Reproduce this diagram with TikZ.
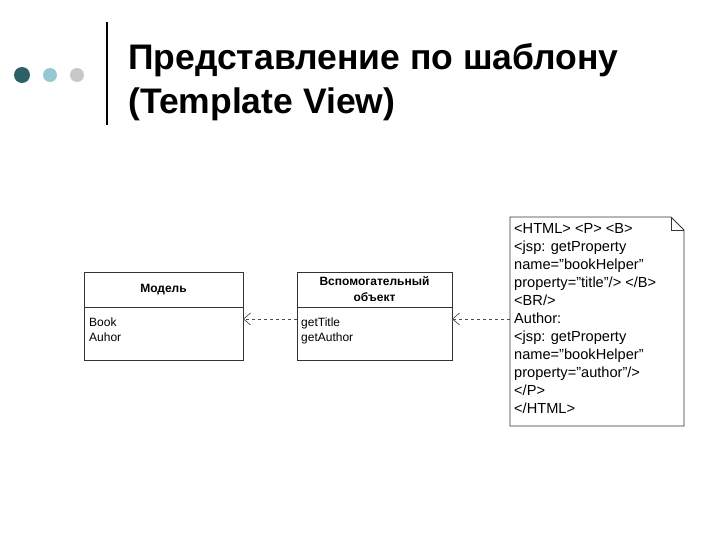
\documentclass[tikz,border=0pt]{standalone}
\usepackage{fontspec}
\setmainfont{Liberation Sans}
\usetikzlibrary{arrows.meta}
\begin{document}
\begin{tikzpicture}[x=1pt,y=-1pt,
  box/.style={draw=black!80,line width=0.8pt},
  dep/.style={draw=black!70,dashed,line width=0.7pt,-{Straight Barb[length=7pt,width=12pt]}},
  cls/.style={font=\fontsize{12}{15}\selectfont,anchor=north west,align=left,inner sep=0pt},
  hdr/.style={font=\fontsize{12}{16}\selectfont\bfseries,align=center,inner sep=0pt}]
\useasboundingbox (0,0) rectangle (720,540);
% header
\fill[fill={rgb,255:red,45;green,95;blue,105}] (22,75) circle (8);
\fill[fill={rgb,255:red,150;green,200;blue,210}] (50,75) circle (7);
\fill[fill=black!22] (77,75) circle (7);
\draw[line width=1.5pt] (107,22) -- (107,125);
\node[anchor=base west,inner sep=0pt,font=\fontsize{35.5}{40}\selectfont\bfseries] (t1) at (128,70) {Представление по шаблону};
\node[anchor=base west,inner sep=0pt,font=\fontsize{35.5}{40}\selectfont\bfseries] (t2) at (128,114) {(Template View)};
% Model
\draw[box] (84,272) rectangle (243,360);
\draw[box] (84,307) -- (243,307);
\node[hdr] (mh) at (163.5,290) {Модель};
\node[cls] (mb) at (89,318) {Book\\Auhor};
\coordinate (mR) at (243,319);
% Helper
\draw[box] (297,272) rectangle (452,360);
\draw[box] (297,307) -- (452,307);
\node[hdr] (hh) at (374.5,289) {Вспомогательный\\объект};
\node[cls] (hb) at (301,318) {getTitle\\getAuthor};
\coordinate (hL) at (297,319);
\coordinate (hR) at (452,319);
% Note
\draw[box] (510,217) -- (671,217) -- (684,230) -- (684,426) -- (510,426) -- cycle;
\draw[box] (671,217) -- (671,230) -- (684,230);
\coordinate (nL) at (510,319);
\node[anchor=north west,inner sep=0pt,align=left,font=\fontsize{14.6}{18}\selectfont] (nt) at (514,223)
{<HTML> <P> <B>\\<jsp: getProperty\\name="bookHelper"\\property="title"/> </B>\\<BR/>\\Author:\\<jsp: getProperty\\name="bookHelper"\\property="author"/>\\</P>\\</HTML>};
\draw[dep] (hL) -- (mR);
\draw[dep] (nL) -- (hR);
\end{tikzpicture}
\end{document}
